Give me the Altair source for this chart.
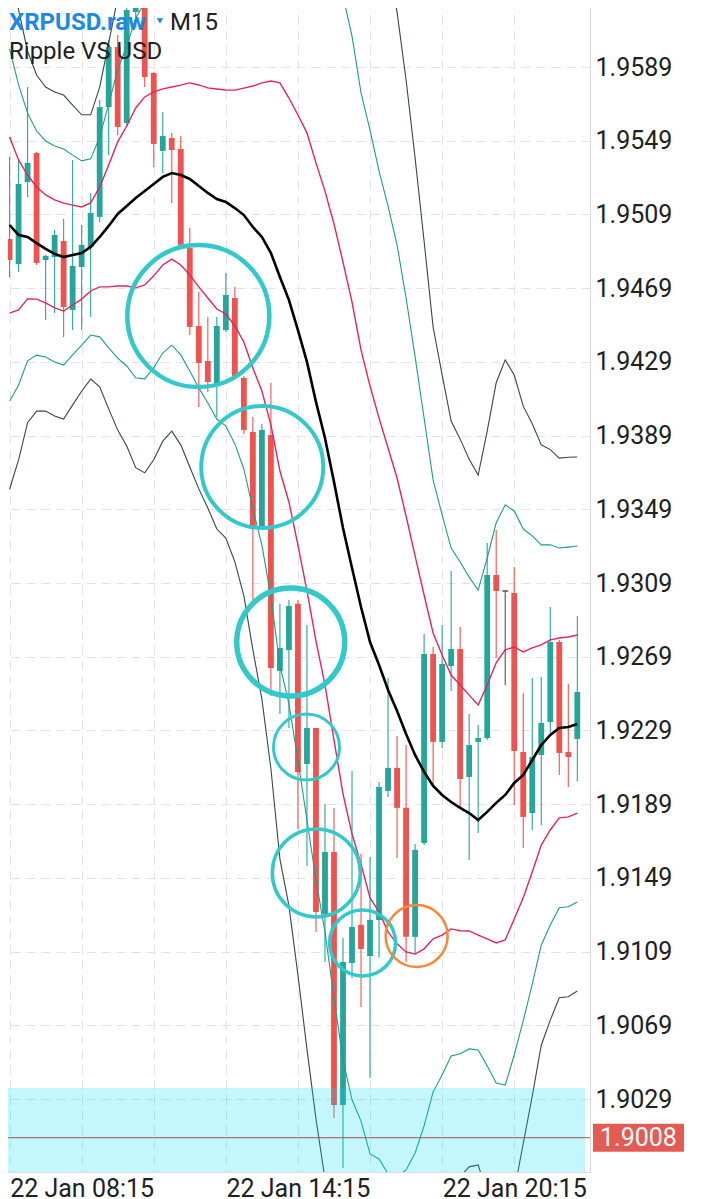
import altair as alt
import pandas as pd

# ---------------- data ----------------
session_start = "2026-01-22 06:15"
bar_minutes = 15

opens = [1.94957, 1.94821, 1.95266, 1.95424, 1.94843, 1.94859, 1.94946, 1.94572, 1.94805, 1.94914,
         1.95077, 1.95673, 1.95999, 1.95587, 1.96189, 1.96254, 1.95858, 1.95435, 1.95505, 1.95446,
         1.94908, 1.94485, 1.94295, 1.94165, 1.94463, 1.94637, 1.94203, 1.93910, 1.93394, 1.93894,
         1.92613, 1.92727, 1.92977, 1.92108, 1.92304, 1.91294, 1.91631, 1.90258, 1.91028, 1.91235,
         1.91066, 1.91262, 1.91962, 1.92087, 1.91870, 1.91170, 1.91680, 1.92705, 1.92228, 1.92640,
         1.92732, 1.92038, 1.92228, 1.92249, 1.93134, 1.93047, 1.93036, 1.92173, 1.91842, 1.92157,
         1.92336, 1.92770, 1.92173, 1.92244]
highs = [1.95402, 1.95386, 1.95782, 1.95429, 1.94870, 1.95006, 1.95066, 1.95386, 1.95033, 1.95207,
         1.95711, 1.96037, 1.96064, 1.96265, 1.96308, 1.96308, 1.95863, 1.95646, 1.95532, 1.95516,
         1.95017, 1.94670, 1.94534, 1.94534, 1.94773, 1.94697, 1.94214, 1.93991, 1.93953, 1.94176,
         1.92977, 1.92998, 1.92998, 1.92863, 1.92304, 1.91891, 1.91870, 1.91164, 1.92070, 1.91620,
         1.91604, 1.92011, 1.92575, 1.92260, 1.92211, 1.91674, 1.92814, 1.92743, 1.92863, 1.93156,
         1.92852, 1.92380, 1.92320, 1.93308, 1.93378, 1.93047, 1.93177, 1.92494, 1.92575, 1.92580,
         1.92960, 1.92781, 1.92542, 1.92911]
lows = [1.94751, 1.94778, 1.95185, 1.94816, 1.94518, 1.94556, 1.94425, 1.94463, 1.94463, 1.94534,
        1.95049, 1.95413, 1.95521, 1.95565, 1.96102, 1.95782, 1.95348, 1.95315, 1.95152, 1.94914,
        1.94436, 1.94046, 1.94127, 1.93991, 1.94452, 1.94203, 1.93899, 1.92998, 1.93378, 1.92477,
        1.92380, 1.92304, 1.91756, 1.91555, 1.91197, 1.91034, 1.90187, 1.89916, 1.90947, 1.90790,
        1.90404, 1.91056, 1.91929, 1.91598, 1.91034, 1.91083, 1.91669, 1.91994, 1.92195, 1.92504,
        1.91875, 1.91587, 1.91734, 1.92238, 1.92683, 1.92537, 1.91886, 1.91652, 1.91750, 1.91777,
        1.92276, 1.92049, 1.91983, 1.92016]
closes = [1.94843, 1.95256, 1.95370, 1.94827, 1.94865, 1.94979, 1.94588, 1.94811, 1.94925, 1.95098,
          1.95673, 1.95999, 1.95565, 1.96200, 1.96243, 1.95836, 1.95473, 1.95516, 1.95440, 1.94925,
          1.94480, 1.94284, 1.94181, 1.94485, 1.94653, 1.94208, 1.93921, 1.93383, 1.93921, 1.92629,
          1.92738, 1.92966, 1.92065, 1.92304, 1.91305, 1.91631, 1.90258, 1.91034, 1.91224, 1.91104,
          1.91262, 1.91983, 1.92087, 1.91870, 1.91170, 1.91642, 1.92705, 1.92228, 1.92651, 1.92732,
          1.92027, 1.92211, 1.92249, 1.93134, 1.93047, 1.93047, 1.92179, 1.91821, 1.92146, 1.92331,
          1.92770, 1.92168, 1.92146, 1.92499]

# Bollinger-type envelope: middle line and the distance of one band step
band_mid = [1.95033, 1.94979, 1.94968, 1.94935, 1.94903, 1.94876, 1.94859, 1.94870, 1.94881, 1.94914,
            1.94968, 1.95028, 1.95093, 1.95136, 1.95180, 1.95218, 1.95256, 1.95294, 1.95315, 1.95304,
            1.95283, 1.95245, 1.95207, 1.95174, 1.95158, 1.95125, 1.95087, 1.95022, 1.94968, 1.94881,
            1.94751, 1.94626, 1.94463, 1.94290, 1.94073, 1.93877, 1.93639, 1.93389, 1.93172, 1.92960,
            1.92770, 1.92645, 1.92510, 1.92396, 1.92271, 1.92157, 1.92065, 1.91989, 1.91940, 1.91902,
            1.91870, 1.91842, 1.91804, 1.91848, 1.91897, 1.91940, 1.92005, 1.92049, 1.92130, 1.92211,
            1.92266, 1.92304, 1.92309, 1.92325]
band_step = [0.00478, 0.00407, 0.00336, 0.00304, 0.00293, 0.00293, 0.00293, 0.00271, 0.00250, 0.00239,
             0.00271, 0.00331, 0.00391, 0.00434, 0.00488, 0.00510, 0.00499, 0.00478, 0.00467, 0.00488,
             0.00521, 0.00548, 0.00570, 0.00597, 0.00608, 0.00640, 0.00689, 0.00765, 0.00836, 0.00933,
             0.01053, 0.01096, 0.01167, 0.01243, 0.01297, 0.01340, 0.01400, 0.01443, 0.01443, 0.01395,
             0.01389, 0.01340, 0.01313, 0.01264, 0.01183, 0.01080, 0.00960, 0.00830, 0.00760, 0.00689,
             0.00667, 0.00640, 0.00624, 0.00689, 0.00760, 0.00787, 0.00738, 0.00667, 0.00608, 0.00543,
             0.00516, 0.00488, 0.00488, 0.00483]

tick_prices = [1.9029, 1.9069, 1.9109, 1.9149, 1.9189, 1.9229, 1.9269, 1.9309,
               1.9349, 1.9389, 1.9429, 1.9469, 1.9509, 1.9549, 1.9589]
grid_hours = [6, 8, 10, 12, 14, 16, 18, 20]
y_domain = [1.89894, 1.96254]
x_start = "2026-01-22 06:07:24"
x_end = "2026-01-22 22:12:48"

last_price = 1.9008
last_price_label = "1.9008"
zone_top = 1.9035
zone_bottom = 1.8980

# hand-drawn annotation rings: bar position (fractional), price, radius px, pen width
ring_pos = [20.95, 28.04, 31.2, 32.95, 34.04, 39.17, 45.17]
ring_price = [1.94539, 1.93720, 1.92770, 1.92200, 1.91517, 1.91137, 1.91175]
ring_radius = [71, 61, 54, 33, 44, 33, 31]
ring_pen = [4.5, 4.0, 5.5, 3.0, 3.5, 3.5, 2.5]
ring_color = ["#33C9CB"] * 6 + ["#F5883A"]

symbol_text = "XRPUSD.raw"
period_text = "M15"
desc_text = "Ripple VS USD"

GREEN = "#26A69A"
RED = "#EF5350"

# ---------------- tables ----------------
t0 = pd.Timestamp(session_start)
times = [t0 + pd.Timedelta(minutes=bar_minutes * i) for i in range(len(opens))]


def direction(o, c):
    if c > o:
        return "up"
    if c < o:
        return "down"
    return "doji"


candles = pd.DataFrame({
    "t": times, "open": opens, "high": highs, "low": lows, "close": closes,
    "dir": [direction(o, c) for o, c in zip(opens, closes)],
})

band_rows = []
for t, m, s in zip(times, band_mid, band_step):
    band_rows.append({"t": t, "level": 0, "side": "mid", "value": m})
    for k in (1, 2, 3):
        band_rows.append({"t": t, "level": k, "side": "up", "value": m + k * s})
        band_rows.append({"t": t, "level": k, "side": "down", "value": m - k * s})
bands = pd.DataFrame(band_rows)

rings = pd.DataFrame({
    "t": [t0 + pd.Timedelta(minutes=bar_minutes * p) for p in ring_pos],
    "p": ring_price,
    "sz": [(2 * r) ** 2 for r in ring_radius],
    "sw": ring_pen,
    "col": ring_color,
})

xs = pd.Timestamp(x_start)
xe = pd.Timestamp(x_end)
zone = pd.DataFrame({"t0": [xs], "t1": [xe], "top": [zone_top], "bottom": [zone_bottom]})
tag = pd.DataFrame({"p": [last_price], "label": [last_price_label]})


def dt(ts):
    return alt.DateTime(year=ts.year, month=ts.month, date=ts.day,
                        hours=ts.hour, minutes=ts.minute, seconds=ts.second)


grid_times = [dt(t0.replace(hour=h)) for h in grid_hours]

x_scale = alt.Scale(domain=[dt(xs), dt(xe)])
y_scale = alt.Scale(domain=y_domain, zero=False, nice=False)

GRID = "#E3E3E3"
x_axis = alt.Axis(
    orient="bottom", values=grid_times, title=None,
    labelExpr="hours(datum.value) % 6 == 2 ? timeFormat(datum.value, '%d %b %H:%M') : ''",
    labelFontSize=25, labelFont="Roboto", labelColor="#212121", labelPadding=4,
    ticks=False, tickSize=0, domain=False, grid=True, gridColor=GRID,
    gridDash=[9, 6], gridWidth=1, labelFlush=False, labelOverlap=False,
)
y_axis = alt.Axis(
    orient="right", values=tick_prices, format=".4f", title=None,
    labelFontSize=25, labelFont="Roboto", labelColor="#212121", labelPadding=5,
    labelAlign="left", labelBaseline="middle",
    ticks=False, tickSize=0, domain=True, domainColor="#D8D8D8", domainWidth=1,
    grid=True, gridColor=GRID, gridDash=[9, 6], gridWidth=1,
    labelFlush=False, labelOverlap=False,
)


def X(field):
    return alt.X(field, scale=x_scale, axis=x_axis)


def Y(field):
    return alt.Y(field, scale=y_scale, axis=y_axis)


dir_color = alt.Color("dir:N", scale=alt.Scale(domain=["up", "down", "doji"],
                                               range=[GREEN, RED, "#555555"]), legend=None)

wicks = alt.Chart(candles).mark_rule(strokeWidth=1.1, clip=True).encode(
    x=X("t:T"), y=Y("low:Q"), y2="high:Q", color=dir_color)

bodies = alt.Chart(candles).mark_bar(width=5.8, clip=True).encode(
    x=X("t:T"), y=Y("open:Q"), y2="close:Q", color=dir_color)

doji = alt.Chart(candles).transform_filter(alt.datum.dir == "doji").mark_bar(
    width=6, stroke="#555555", strokeWidth=1.6, clip=True).encode(
    x=X("t:T"), y=Y("open:Q"), y2="close:Q")


def band_layer(level, color, width):
    return alt.Chart(bands).transform_filter(alt.datum.level == level).mark_line(
        color=color, strokeWidth=width, clip=True).encode(
        x=X("t:T"), y=Y("value:Q"), detail="side:N")


band3 = band_layer(3, "#36474F", 1.1)
band2 = band_layer(2, "#1E9C8A", 1.1)
band1 = band_layer(1, "#E2245F", 1.4)
mid_line = band_layer(0, "#000000", 2.6)

zone_rect = alt.Chart(zone).mark_rect(color="#00DCF5", opacity=0.23, clip=True).encode(
    x=X("t0:T"), x2="t1:T", y=Y("top:Q"), y2="bottom:Q")

last_rule = alt.Chart(tag).mark_rule(color="#A0524E", strokeWidth=1, clip=True).encode(
    y=Y("p:Q"))

ring_marks = alt.Chart(rings).mark_point(shape="circle", filled=False, opacity=1).encode(
    x=X("t:T"), y=Y("p:Q"),
    size=alt.Size("sz:Q", scale=None, legend=None),
    strokeWidth=alt.StrokeWidth("sw:Q", scale=None, legend=None),
    color=alt.Color("col:N", scale=None, legend=None))

tag_box = alt.Chart(tag).mark_rect(color="#E35B52", yOffset=-14, y2Offset=14).encode(
    x=alt.value(593), x2=alt.value(684), y=Y("p:Q"), y2="p:Q")
tag_text = alt.Chart(tag).mark_text(align="left", baseline="middle", color="white",
                                    fontSize=25, font="Roboto").encode(
    x=alt.value(600), y=Y("p:Q"), text="label:N")

title_sym = alt.Chart(pd.DataFrame({"s": [symbol_text]})).mark_text(
    align="left", baseline="alphabetic", fontSize=24, font="Roboto", fontWeight="bold",
    color="#1E88E5").encode(x=alt.value(9), y=alt.value(30), text="s:N")
title_tri = alt.Chart(pd.DataFrame({"s": ["v"]})).mark_point(
    shape="triangle-down", filled=True, size=40, opacity=1, color="#1E88E5").encode(
    x=alt.value(160), y=alt.value(21))
title_per = alt.Chart(pd.DataFrame({"s": [period_text]})).mark_text(
    align="left", baseline="alphabetic", fontSize=24, font="Roboto",
    color="#212121").encode(x=alt.value(170), y=alt.value(30), text="s:N")
title_desc = alt.Chart(pd.DataFrame({"s": [desc_text]})).mark_text(
    align="left", baseline="alphabetic", fontSize=24, font="Roboto",
    color="#212121").encode(x=alt.value(9), y=alt.value(59), text="s:N")

chart = alt.layer(
    wicks, bodies, doji, band3, band2, band1, mid_line, zone_rect, last_rule,
    ring_marks, tag_box, tag_text, title_sym, title_tri, title_per, title_desc,
).properties(
    width=590, height=1172,
    padding={"left": -8, "top": -8, "right": 105, "bottom": 27},
    autosize=alt.AutoSizeParams(type="none"),
).configure_view(stroke=None).configure(font="Roboto", background="white")

chart.save("out.html", embed_options={"renderer": "svg", "actions": False})
